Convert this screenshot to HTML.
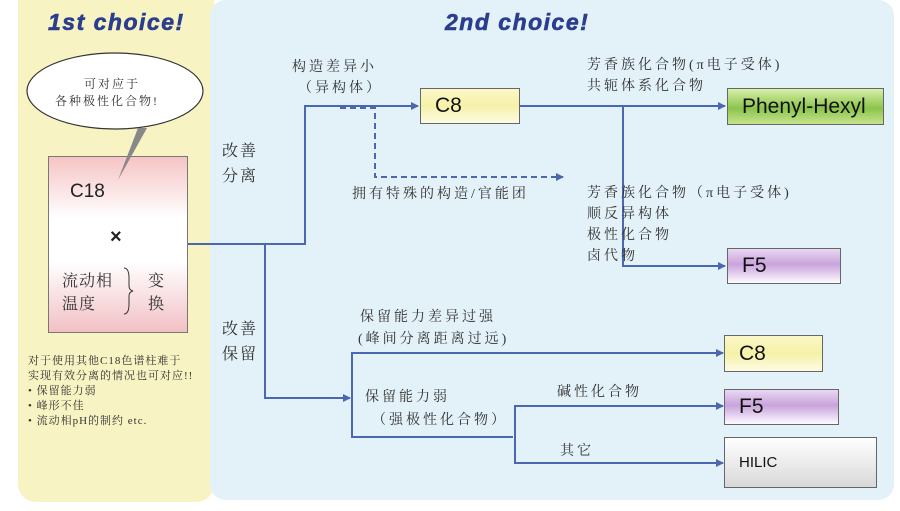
<!DOCTYPE html>
<html><head><meta charset="utf-8"><style>
body{margin:0;width:900px;height:511px;background:#fff;overflow:hidden;position:relative;font-family:"Liberation Serif","Noto Serif CJK SC",serif;}
.t{position:absolute;font-size:14px;color:#333;white-space:nowrap;line-height:1;letter-spacing:3px}
.ttl{position:absolute;font-family:"Liberation Sans",sans-serif;font-weight:bold;font-style:italic;font-size:23px;letter-spacing:1.5px;color:#2b3d8e;-webkit-text-stroke:0.6px #2b3d8e}
.box{position:absolute;border:1.5px solid #666;box-sizing:border-box;font-family:"Liberation Sans",sans-serif;font-size:21px;color:#111;display:flex;align-items:center;padding-left:14px}
.y{background:linear-gradient(#fbf8c8,#f6f1a8 50%,#fdfbe4)}
.p{background:linear-gradient(#e9d8f2,#c9a3dc 45%,#fdfbff)}
.g{background:linear-gradient(#d8efa8,#8cc44c 55%,#c6e38c)}
</style></head><body>
<div style="position:absolute;left:18px;top:0;width:196px;height:502px;background:#f7f3c2;border-radius:0 0 18px 18px"></div>
<div style="position:absolute;left:210px;top:0;width:684px;height:500px;background:#e3f1f8;border-radius:16px"></div>
<div class="ttl" style="left:48px;top:9px">1st choice!</div>
<div class="ttl" style="left:445px;top:9px">2nd choice!</div>
<div style="position:absolute;left:48px;top:156px;width:140px;height:177px;border:1.5px solid #777;box-sizing:border-box;background:linear-gradient(#f6c4c4,#fff 35%,#fff 60%,#f2c0c4)"></div>
<svg width="900" height="511" style="position:absolute;left:0;top:0">
<defs><marker id="a" markerWidth="8" markerHeight="8" refX="7" refY="4" orient="auto" markerUnits="userSpaceOnUse"><path d="M0,0L8,4L0,8z" fill="#4a67b0"/></marker></defs>
<ellipse cx="115" cy="91" rx="88" ry="38" fill="#fff" stroke="#333" stroke-width="1.2"/>
<path d="M138,128 L147,128 L118,180 Z" fill="#888"/>
<g stroke="#4a67b0" stroke-width="2" fill="none">
<path d="M188,244H305V106H418" marker-end="url(#a)"/>
<path d="M265,244V398H350" marker-end="url(#a)"/>
<path d="M352,398V353H723" marker-end="url(#a)"/>
<path d="M352,398V437H513" />
<path d="M515,437V406H723" marker-end="url(#a)"/>
<path d="M515,437V463H723" marker-end="url(#a)"/>
<path d="M520,106H725" marker-end="url(#a)"/>
<path d="M623,106V266H725" marker-end="url(#a)"/>
<path d="M340,108H375V177H563" stroke-dasharray="6,4" marker-end="url(#a)"/>
</g>
<path d="M124,268 q5,0 5,10 v8 q0,4 4,5 q-4,1 -4,5 v8 q0,10 -5,10" stroke="#333" fill="none" stroke-width="1"/>
</svg>
<div class="t" style="left:84px;top:78px;font-size:12px;letter-spacing:2px">可对应于</div>
<div class="t" style="left:55px;top:95px;font-size:12px;letter-spacing:2px">各种极性化合物!</div>
<div class="t" style="left:70px;top:182px;font-family:'Liberation Sans',sans-serif;font-size:19px;color:#222;letter-spacing:0">C18</div>
<div class="t" style="left:110px;top:227px;font-family:'Liberation Sans',sans-serif;font-size:20px;font-weight:bold;color:#222">×</div>
<div class="t" style="left:62px;top:274px;font-size:16px;letter-spacing:1px">流动相</div>
<div class="t" style="left:62px;top:297px;font-size:16px;letter-spacing:1px">温度</div>
<div class="t" style="left:148px;top:274px;font-size:16px">变</div>
<div class="t" style="left:148px;top:297px;font-size:16px">换</div>
<div class="t" style="left:28px;top:354px;font-size:11px;line-height:15px;letter-spacing:1px">对于使用其他C18色谱柱难于<br>实现有效分离的情况也可对应!!<br>• 保留能力弱<br>• 峰形不佳<br>• 流动相pH的制约 etc.</div>
<div class="box y" style="left:420px;top:88px;width:100px;height:36px">C8</div>
<div class="box g" style="left:727px;top:88px;width:157px;height:37px">Phenyl-Hexyl</div>
<div class="box p" style="left:727px;top:248px;width:114px;height:36px">F5</div>
<div class="box y" style="left:724px;top:335px;width:99px;height:37px">C8</div>
<div class="box p" style="left:724px;top:389px;width:115px;height:36px">F5</div>
<div class="box" style="left:724px;top:437px;width:153px;height:51px;background:linear-gradient(#fff,#ececec 50%,#d8d8d8);font-size:15px">HILIC</div>
<div class="t" style="left:292px;top:61px">构造差异小</div>
<div class="t" style="left:298px;top:82px">（异构体）</div>
<div class="t" style="left:222px;top:139px;font-size:16px;line-height:25px;letter-spacing:2px">改善<br>分离</div>
<div class="t" style="left:352px;top:188px">拥有特殊的构造/官能团</div>
<div class="t" style="left:587px;top:59px">芳香族化合物(π电子受体)</div>
<div class="t" style="left:587px;top:80px">共轭体系化合物</div>
<div class="t" style="left:587px;top:183px;line-height:21px">芳香族化合物（π电子受体)<br>顺反异构体<br>极性化合物<br>卤代物</div>
<div class="t" style="left:222px;top:317px;font-size:16px;line-height:25px;letter-spacing:2px">改善<br>保留</div>
<div class="t" style="left:360px;top:311px">保留能力差异过强</div>
<div class="t" style="left:358px;top:333px">(峰间分离距离过远)</div>
<div class="t" style="left:365px;top:391px">保留能力弱</div>
<div class="t" style="left:372px;top:414px">（强极性化合物）</div>
<div class="t" style="left:557px;top:386px">碱性化合物</div>
<div class="t" style="left:560px;top:445px">其它</div>
</body></html>
